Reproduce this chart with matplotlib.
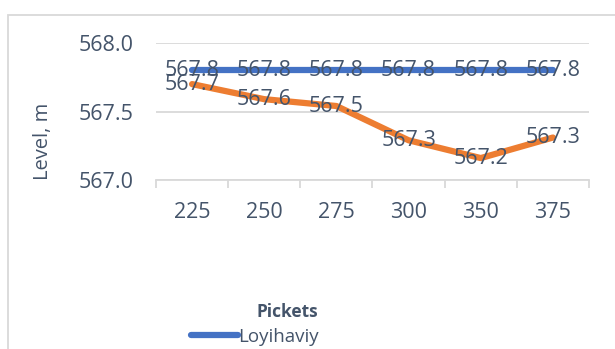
import matplotlib
matplotlib.use("Agg")
import matplotlib.pyplot as plt
from matplotlib.patches import Rectangle

plt.rcParams['font.family'] = ['Open Sans', 'DejaVu Sans']

pickets = ["225", "250", "275", "300", "350", "375"]
loyihaviy = [567.8, 567.8, 567.8, 567.8, 567.8, 567.8]
actual = [567.70, 567.59, 567.54, 567.29, 567.16, 567.31]
y_ticks = [567.0, 567.5, 568.0]

W, H = 615, 349
fig = plt.figure(figsize=(W / 100, H / 100), dpi=100)
txt = '#44546A'
grid = '#D9D9D9'
fs_num = 15.5

# chart border
fig.patches.append(Rectangle((8 / W, -0.2), 1.2, (H - 15) / H + 0.2, transform=fig.transFigure,
                             fill=False, edgecolor=grid, lw=1.3))

ax = fig.add_axes([156 / W, (H - 180) / H, (589 - 156) / W, (180 - 43) / H])
x = list(range(len(pickets)))

ax.plot(x, actual, color='#ED7D31', lw=4.5, solid_capstyle='round', solid_joinstyle='round', zorder=3)
blue, = ax.plot(x, loyihaviy, color='#4472C4', lw=4.5, solid_capstyle='round', label='Loyihaviy', zorder=3)

for xi, v in zip(x, loyihaviy):
    ax.text(xi, v, f"{v:.1f}", ha='center', va='center', fontsize=fs_num, color=txt, zorder=5)
for xi, v in zip(x, actual):
    ax.text(xi, v, f"{v:.1f}", ha='center', va='center', fontsize=fs_num, color=txt, zorder=5)

ax.set_xlim(-0.5, len(pickets) - 0.5)
ax.set_ylim(567.0, 568.0)
ax.set_yticks(y_ticks)
ax.set_yticklabels([f"{t:.1f}" for t in y_ticks])
ax.set_xticks(x)
ax.set_xticklabels(pickets)
ax.set_xticks([i - 0.5 for i in range(len(pickets) + 1)], minor=True)
ax.tick_params(axis='x', which='major', length=0, pad=15.5, labelsize=fs_num, labelcolor=txt)
ax.tick_params(axis='x', which='minor', length=6, width=1.3, color=grid)
ax.tick_params(axis='y', length=0, pad=16, labelsize=fs_num, labelcolor=txt)
ax.grid(axis='y', color=grid, lw=1.3)
ax.set_axisbelow(True)
for s in ['top', 'right', 'left']:
    ax.spines[s].set_visible(False)
ax.spines['bottom'].set_color(grid)
ax.spines['bottom'].set_linewidth(1.3)

fig.text(43 / W, 1 - 141 / H, "Level, m", rotation=90, ha='center', va='center', fontsize=14.5, color=txt)
fig.text(287 / W, 1 - 312 / H, "Pickets", ha='center', va='center', fontsize=12.5, fontweight='bold', color=txt)

fig.legend(handles=[blue], loc='center', bbox_to_anchor=(255 / W, 1 - 337 / H), frameon=False,
           fontsize=13.5, labelcolor=txt, handlelength=2.5, handletextpad=0.05,
           borderpad=0, borderaxespad=0)

fig.savefig("out.png", dpi=100)
